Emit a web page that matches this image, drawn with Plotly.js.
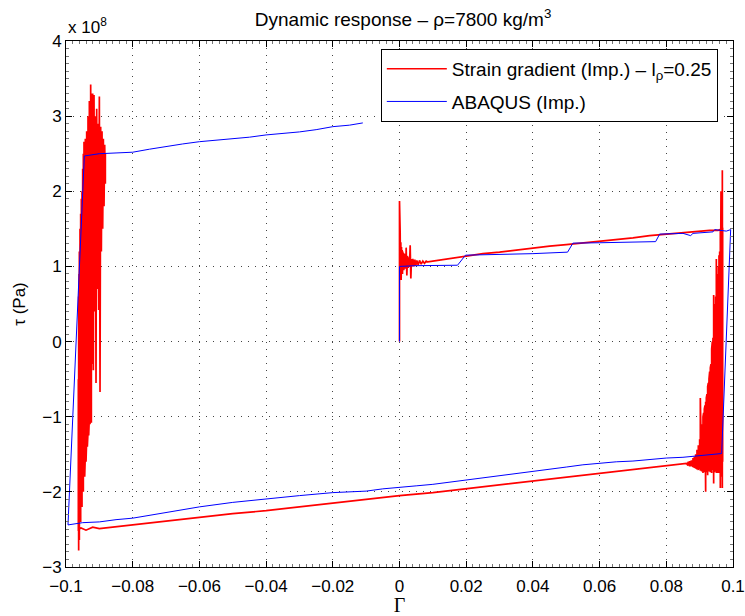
<!DOCTYPE html>
<html>
<head>
<meta charset="utf-8">
<script src="https://cdn.plot.ly/plotly-3.0.1.min.js"></script>
<style>html,body{margin:0;padding:0;background:#fff;}#chart{width:745px;height:616px;}</style>
</head>
<body>
<div id="chart"></div>
<script>
// Values of tau are in units of 1e8 Pa (axis shows "x 10^8")
// ---- Strain gradient (red) ----
// initial loading spike at Gamma = 0 and its decay
const redRiseX = [0, 0, 0.0001, 0.0002, 0.0003, 0.0004, 0.0005, 0.0006, 0.0007, 0.0008, 0.0009, 0.0010, 0.0011, 0.0012, 0.0013, 0.0014, 0.0015, 0.0016, 0.0017, 0.0018, 0.0019, 0.0020, 0.0022, 0.0024, 0.0026, 0.0028, 0.0030, 0.0032, 0.0034, 0.0036, 0.0038, 0.0040, 0.0043, 0.0046, 0.0049, 0.0052, 0.0056, 0.0060, 0.0065, 0.0070, 0.0075, 0.0080];
const redRiseY = [0, 1.87, 0.85, 1.45, 0.90, 1.32, 0.82, 1.26, 0.95, 1.22, 0.90, 1.20, 0.98, 1.18, 0.95, 1.15, 1.00, 1.17, 0.97, 1.13, 1.00, 1.25, 0.88, 1.14, 0.98, 1.12, 1.00, 1.28, 0.84, 1.10, 1.00, 1.10, 1.00, 1.09, 1.01, 1.08, 1.02, 1.08, 1.03, 1.07, 1.04, 1.07];
// upper branch
const redTopX = [0.0085, 0.010, 0.015, 0.020, 0.025, 0.030, 0.035, 0.040, 0.045, 0.050, 0.055, 0.060, 0.065, 0.070, 0.075, 0.080, 0.085, 0.090, 0.093, 0.0955];
const redTopY = [1.06, 1.07, 1.11, 1.14, 1.17, 1.19, 1.22, 1.24, 1.27, 1.29, 1.31, 1.33, 1.36, 1.38, 1.41, 1.43, 1.45, 1.47, 1.48, 1.48];
// oscillations at the right reversal (read from high to low Gamma)
const redRightX  = [0.0969, 0.0968, 0.0967, 0.0966, 0.0965, 0.0964, 0.0963, 0.0962, 0.0961, 0.0960, 0.0959, 0.0958, 0.0957, 0.0956, 0.0955, 0.0954, 0.0953, 0.0952, 0.0951, 0.0950, 0.0949, 0.0948, 0.0947, 0.0946, 0.0945, 0.0944, 0.0943, 0.0942, 0.0941, 0.0940, 0.0939, 0.0938,
  0.0936, 0.0934, 0.0932, 0.0930, 0.0928, 0.0926, 0.0924, 0.0922, 0.0920, 0.0918, 0.0916, 0.0914, 0.0912, 0.0910, 0.0908, 0.0906, 0.0904, 0.0902, 0.0900, 0.0896, 0.0892, 0.0888, 0.0884, 0.0880, 0.0875, 0.0870, 0.0865];
const redRightHi = [1.50, 2.28, 2.00, 1.60, 1.40, 2.00, 1.10, 1.50, 1.30, 1.20, 0.90, 1.15, 0.80, 1.00, 0.70, 0.90, 0.60, 0.80, 0.50, 1.10, 0.40, 0.60, 0.30, 0.50, 0.20, 0.60, 0.10, 0.62, -0.10, 0.05, -0.20, 0.00,
  -0.10, -0.30, -0.35, -0.40, -0.50, -0.55, -0.60, -0.70, -0.75, -0.80, -0.85, -0.90, -0.95, -1.00, -1.10, -1.15, -1.20, -0.75, -1.30, -1.38, -1.44, -1.50, -1.53, -1.55, -1.58, -1.59, -1.60];
const redRightLo = [-1.60, -1.95, -1.70, -1.80, -1.65, -1.70, -1.72, -1.95, -1.68, -1.70, -1.73, -1.75, -1.69, -1.70, -1.74, -1.75, -1.68, -1.70, -1.72, -1.75, -1.69, -1.70, -1.73, -1.72, -1.70, -1.70, -1.74, -1.89, -1.70, -1.72, -1.71, -1.70,
  -1.75, -1.70, -1.74, -1.70, -1.73, -1.70, -1.78, -1.70, -1.74, -2.00, -1.72, -1.74, -1.70, -1.75, -1.71, -1.73, -1.70, -1.72, -1.70, -1.71, -1.70, -1.69, -1.68, -1.67, -1.66, -1.66, -1.65];
// lower branch (unloading, high to low Gamma)
const redBottomX = [0.086, 0.080, 0.070, 0.060, 0.050, 0.040, 0.030, 0.020, 0.010, 0.000, -0.010, -0.020, -0.030, -0.040, -0.050, -0.060, -0.070, -0.080, -0.085, -0.088, -0.090, -0.092, -0.094, -0.0955];
const redBottomY = [-1.62, -1.65, -1.70, -1.76, -1.81, -1.86, -1.91, -1.96, -2.01, -2.05, -2.10, -2.15, -2.20, -2.25, -2.29, -2.34, -2.39, -2.44, -2.46, -2.48, -2.49, -2.47, -2.51, -2.48];
// oscillations at the left reversal (low to high Gamma)
const redLeftX  = [-0.0963, -0.0962, -0.0961, -0.0960, -0.0958, -0.0956, -0.0954, -0.0952, -0.0950, -0.0948, -0.0946, -0.0944, -0.0942, -0.0940, -0.0938, -0.0936, -0.0934, -0.0932, -0.0930, -0.0928, -0.0926, -0.0924, -0.0922, -0.0920, -0.0918, -0.0916, -0.0914, -0.0912, -0.0910, -0.0908, -0.0906, -0.0904, -0.0902, -0.0900, -0.0898, -0.0896, -0.0894, -0.0892, -0.0890, -0.0888, -0.0886, -0.0884, -0.0882];
const redLeftLo = [-2.50, -2.78, -2.50, -2.64, -2.27, -2.40, -2.10, -2.20, -1.95, -2.00, -1.70, -1.80, -1.50, -1.60, -1.30, -1.40, -1.20, -1.25, -1.00, -1.10, -0.80, -1.08, -0.30, 0.20, -0.38, 0.50, 0.40, 0.60, -0.55, 0.70, 0.70, 0.80, 0.42, 0.90, -0.67, 1.00, 1.20, 1.30, 1.50, 1.60, 1.80, 1.90, 2.10];
const redLeftHi = [-0.50, 0.60, 0.90, 1.20, 1.50, 1.70, 1.90, 2.00, 2.30, 2.50, 2.66, 2.60, 2.70, 2.66, 2.80, 2.70, 3.00, 2.80, 3.20, 2.90, 3.42, 3.30, 3.10, 3.30, 2.90, 3.28, 2.90, 3.00, 2.80, 3.10, 2.70, 2.90, 2.70, 3.26, 2.70, 2.86, 2.70, 2.80, 2.62, 2.70, 2.60, 2.62, 2.50];

// ---- ABAQUS (blue) ----
const blueX = [0, 0, 0.005, 0.010, 0.0174, 0.0198, 0.030, 0.040, 0.0504, 0.0520, 0.060, 0.070, 0.0768, 0.0780, 0.0850, 0.0873, 0.0880, 0.0940, 0.0945, 0.0980, 0.0993,
  0.0966, 0.090, 0.085, 0.080, 0.075, 0.070, 0.065, 0.060, 0.055, 0.050, 0.045, 0.040, 0.035, 0.030, 0.025, 0.020, 0.015, 0.010, 0.005, 0.000, -0.005, -0.010, -0.015, -0.020, -0.030, -0.040, -0.050, -0.060, -0.070, -0.080, -0.085, -0.090, -0.095, -0.0994,
  -0.0945, -0.090, -0.085, -0.080, -0.075, -0.070, -0.065, -0.060, -0.055, -0.050, -0.045, -0.040, -0.035, -0.030, -0.025, -0.020, -0.015, -0.011];
const blueY = [0, 1.00, 1.01, 1.01, 1.016, 1.15, 1.16, 1.17, 1.19, 1.31, 1.315, 1.325, 1.33, 1.43, 1.44, 1.41, 1.44, 1.46, 1.49, 1.47, 1.49,
  -1.49, -1.52, -1.54, -1.55, -1.57, -1.59, -1.60, -1.62, -1.64, -1.67, -1.70, -1.73, -1.76, -1.79, -1.82, -1.84, -1.87, -1.90, -1.92, -1.94, -1.96, -1.99, -2.00, -2.01, -2.05, -2.09, -2.14, -2.20, -2.27, -2.35, -2.37, -2.40, -2.41, -2.44,
  2.47, 2.50, 2.51, 2.52, 2.56, 2.60, 2.63, 2.66, 2.68, 2.70, 2.72, 2.75, 2.77, 2.79, 2.82, 2.86, 2.88, 2.91];

// tick positions (labels are formatted by Plotly: −0.1 … 0.1 and −3 … 4)
const xTickVals = [-0.1, -0.08, -0.06, -0.04, -0.02, 0, 0.02, 0.04, 0.06, 0.08, 0.1];
const yTickVals = [-3, -2, -1, 0, 1, 2, 3, 4];
const xMinorStep = 0.002;
const yMinorStep = 0.1;

// assemble the red path
const redX = [], redY = [];
function push(xs, ys) { for (let i = 0; i < xs.length; i++) { redX.push(xs[i]); redY.push(ys[i]); } }
push(redRiseX, redRiseY);
push(redTopX, redTopY);
for (let i = 0; i < redRightX.length; i++) { redX.push(redRightX[i], redRightX[i]); redY.push(redRightHi[i], redRightLo[i]); }
push(redBottomX, redBottomY);
for (let i = 0; i < redLeftX.length; i++) { redX.push(redLeftX[i], redLeftX[i]); redY.push(redLeftLo[i], redLeftHi[i]); }

const FONT = 'Liberation Sans, Arial, Helvetica, sans-serif';

const traces = [
  { x: redX, y: redY, type: 'scatter', mode: 'lines', name: 'Strain gradient (Imp.) \u2013 l<sub>\u03c1</sub>=0.25',
    line: { color: '#ff0000', width: 1.7 }, legendgroup: 'a' },
  { x: blueX, y: blueY, type: 'scatter', mode: 'lines', name: 'ABAQUS (Imp.)',
    line: { color: '#0000ff', width: 1 }, legendgroup: 'b' }
];

const axisCommon = {
  showline: true, linecolor: '#000', linewidth: 1, mirror: 'ticks',
  ticks: 'inside', ticklen: 6, tickcolor: '#000', tickwidth: 1,
  showgrid: true, gridcolor: '#444', gridwidth: 1, griddash: '1px,6px',
  zeroline: false, tickfont: { family: FONT, size: 17, color: '#000' }
};

const layout = {
  width: 745, height: 616,
  margin: { l: 66, r: 12, t: 41, b: 49 },
  paper_bgcolor: '#fff', plot_bgcolor: '#fff',
  showlegend: true,
  title: { text: 'Dynamic response \u2013 \u03c1=7800 kg/m<sup>3</sup>', font: { family: FONT, size: 19, color: '#000' },
    x: 0.541, xanchor: 'center', y: 0.968, yanchor: 'middle' },
  xaxis: Object.assign({}, axisCommon, {
    range: [xTickVals[0], xTickVals[xTickVals.length - 1]], tickmode: 'linear', tick0: 0, dtick: xTickVals[1] - xTickVals[0],
    ticklabelstandoff: 4,
    minor: { tickmode: 'linear', tick0: 0, dtick: xMinorStep, ticklen: 3, tickcolor: '#777', ticks: 'inside', showgrid: false },
    title: { text: '\u0393', font: { family: 'Liberation Serif, Times New Roman, serif', size: 20, color: '#000' }, standoff: 5 }
  }),
  yaxis: Object.assign({}, axisCommon, {
    range: [yTickVals[0], yTickVals[yTickVals.length - 1]], tickmode: 'linear', tick0: 0, dtick: yTickVals[1] - yTickVals[0],
    minor: { tickmode: 'linear', tick0: 0, dtick: yMinorStep, ticklen: 3, tickcolor: '#777', ticks: 'inside', showgrid: false },
    title: { text: '\u03c4 (Pa)', font: { family: FONT, size: 17, color: '#000' }, standoff: 12 }
  }),
  legend: {
    x: 0.472, y: 0.985, xanchor: 'left', yanchor: 'top',
    bgcolor: '#fff', bordercolor: '#000', borderwidth: 1,
    font: { family: FONT, size: 19, color: '#000' },
    itemwidth: 60, traceorder: 'grouped', tracegroupgap: 5
  },
  annotations: [
    { xref: 'paper', yref: 'paper', x: 0, y: 1, xanchor: 'left', yanchor: 'bottom', yshift: 2,
      text: 'x 10<sup>8</sup>', showarrow: false, font: { family: FONT, size: 17, color: '#000' } }
  ]
};

Plotly.newPlot('chart', traces, layout, { displayModeBar: false, staticPlot: true });
</script>
</body>
</html>
